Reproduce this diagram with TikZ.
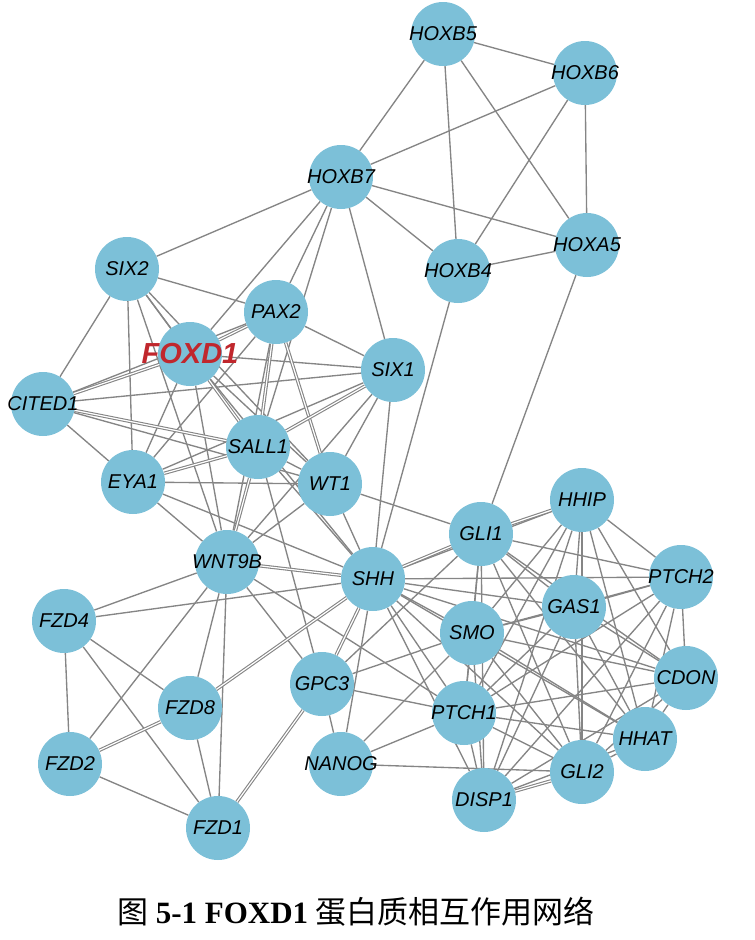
\documentclass[tikz,border=0pt]{standalone}
\usepackage{fontspec}
\setmainfont{Liberation Serif}
\newfontfamily\genefont{Liberation Sans}
\newfontfamily\cjk{Noto Sans CJK SC}
\usepackage{xcolor}
\definecolor{genefill}{HTML}{7CC0D8}
\definecolor{linkgray}{HTML}{858585}
\definecolor{hubred}{HTML}{C0272D}
\usepackage{tikz}
\usetikzlibrary{backgrounds}

\begin{document}
\begin{tikzpicture}[
  x=1pt, y=-1pt,
  gene/.style={circle, fill=genefill, minimum size=64pt, inner sep=0pt,
               label={[font=\genefont\itshape\fontsize{20}{20}\selectfont,
                       text=black]center:#1}},
  link/.style={draw=linkgray, line width=1.35pt},
  dbl/.style={draw=linkgray, line width=1.1pt, double=white,
              double distance=1.2pt}
]
  \useasboundingbox (0,0) rectangle (755,940);

  % HOX group
  \node[gene=HOXB5] (hoxb5) at (443,34) {};
  \node[gene=HOXB6] (hoxb6) at (585,73) {};
  \node[gene=HOXB7] (hoxb7) at (341,177) {};
  \node[gene=HOXA5] (hoxa5) at (587,245) {};
  \node[gene=HOXB4] (hoxb4) at (458,271) {};

  % kidney group
  \node[gene=SIX2] (six2) at (127,269) {};
  \node[gene=PAX2] (pax2) at (276,312) {};
  \node[circle, fill=genefill, minimum size=64pt, inner sep=0pt,
        label={[font=\genefont\bfseries\itshape\fontsize{29}{29}\selectfont,
                text=hubred]center:FOXD1}] (foxd1) at (190,354) {};
  \node[gene=SIX1] (six1) at (393,370) {};
  \node[gene=CITED1] (cited1) at (43,404) {};
  \node[gene=SALL1] (sall1) at (258,447) {};
  \node[gene=EYA1] (eya1) at (133,482) {};
  \node[gene=WT1] (wt1) at (330,484) {};
  \node[gene=WNT9B] (wnt9b) at (227,562) {};

  % frizzled group
  \node[gene=FZD4] (fzd4) at (64,621) {};
  \node[gene=FZD8] (fzd8) at (190,708) {};
  \node[gene=FZD2] (fzd2) at (70,764) {};
  \node[gene=FZD1] (fzd1) at (218,828) {};
  \node[gene=GPC3] (gpc3) at (322,684) {};
  \node[gene=NANOG] (nanog) at (341,764) {};

  % hedgehog group
  \node[gene=SHH] (shh) at (373,579) {};
  \node[gene=GLI1] (gli1) at (481,534) {};
  \node[gene=HHIP] (hhip) at (582,500) {};
  \node[gene=PTCH2] (ptch2) at (681,577) {};
  \node[gene=GAS1] (gas1) at (574,607) {};
  \node[gene=SMO] (smo) at (472,633) {};
  \node[gene=CDON] (cdon) at (686,678) {};
  \node[gene=PTCH1] (ptch1) at (464,713) {};
  \node[gene=HHAT] (hhat) at (645,739) {};
  \node[gene=GLI2] (gli2) at (582,772) {};
  \node[gene=DISP1] (disp1) at (484,800) {};

  \begin{scope}[on background layer]
    \foreach \a/\b in {hoxb5/hoxb6, hoxb5/hoxb7, hoxb5/hoxb4, hoxb5/hoxa5,
        hoxb6/hoxb7, hoxb6/hoxb4, hoxb6/hoxa5, hoxb7/hoxa5, hoxb7/hoxb4,
        hoxb4/hoxa5, hoxb7/six2, hoxb7/foxd1, hoxb7/pax2, hoxb7/sall1,
        hoxb7/six1, hoxa5/gli1, hoxb4/shh,
        six2/pax2, six2/cited1, six2/eya1, six2/foxd1, six2/sall1,
        six2/wt1, six2/wnt9b,
        foxd1/six1, foxd1/wt1, foxd1/eya1, foxd1/wnt9b, foxd1/shh,
        cited1/pax2, cited1/eya1, cited1/wt1, cited1/six1,
        pax2/six1, pax2/eya1, pax2/wnt9b,
        six1/wt1, six1/eya1, six1/shh, six1/wnt9b,
        sall1/wt1, sall1/shh, sall1/gpc3,
        eya1/wt1, eya1/wnt9b, eya1/shh,
        wt1/wnt9b, wt1/shh, wt1/gli1,
        wnt9b/fzd4, wnt9b/fzd8, wnt9b/fzd1, wnt9b/fzd2, wnt9b/gpc3,
        wnt9b/ptch1,
        shh/fzd4, shh/nanog, shh/hhip, shh/ptch2, shh/gas1, shh/smo,
        shh/cdon, shh/hhat, shh/gli2, shh/ptch1, shh/disp1,
        fzd4/fzd2, fzd4/fzd8, fzd4/fzd1, fzd2/fzd1, fzd8/fzd1,
        gpc3/nanog, gpc3/ptch1, gpc3/smo, gpc3/gli1,
        nanog/ptch1, nanog/gli2, nanog/smo}
      \draw[link] (\a) -- (\b);

    % hedgehog core
    \foreach \a/\b in {gli1/ptch2, gli1/gas1, gli1/smo, gli1/cdon,
        gli1/ptch1, gli1/hhat, gli1/gli2, gli1/disp1,
        hhip/ptch2, hhip/gas1, hhip/smo, hhip/cdon, hhip/ptch1,
        hhip/hhat, hhip/gli2, hhip/disp1,
        ptch2/gas1, ptch2/smo, ptch2/cdon, ptch2/ptch1, ptch2/hhat,
        ptch2/gli2, ptch2/disp1,
        gas1/smo, gas1/cdon, gas1/ptch1, gas1/hhat, gas1/gli2, gas1/disp1,
        smo/cdon, smo/ptch1, smo/hhat, smo/gli2, smo/disp1,
        cdon/ptch1, cdon/hhat, cdon/gli2, cdon/disp1,
        ptch1/hhat, ptch1/gli2, ptch1/disp1,
        hhat/gli2, hhat/disp1}
      \draw[link] (\a) -- (\b);

    % doubled links
    \foreach \a/\b in {foxd1/pax2, foxd1/cited1, foxd1/sall1, cited1/sall1,
        pax2/sall1, pax2/wt1, six1/sall1, sall1/eya1, sall1/wnt9b,
        wnt9b/shh, shh/fzd8, shh/gpc3, shh/gli1, fzd2/fzd8, fzd1/gpc3,
        gli1/hhip, gli2/disp1}
      \draw[dbl] (\a) -- (\b);
  \end{scope}

  \node[font=\fontsize{31}{31}\selectfont] (caption) at (356,912)
    {{\cjk 图} \textbf{5-1 FOXD1} {\cjk 蛋白质相互作用网络}};
\end{tikzpicture}
\end{document}
